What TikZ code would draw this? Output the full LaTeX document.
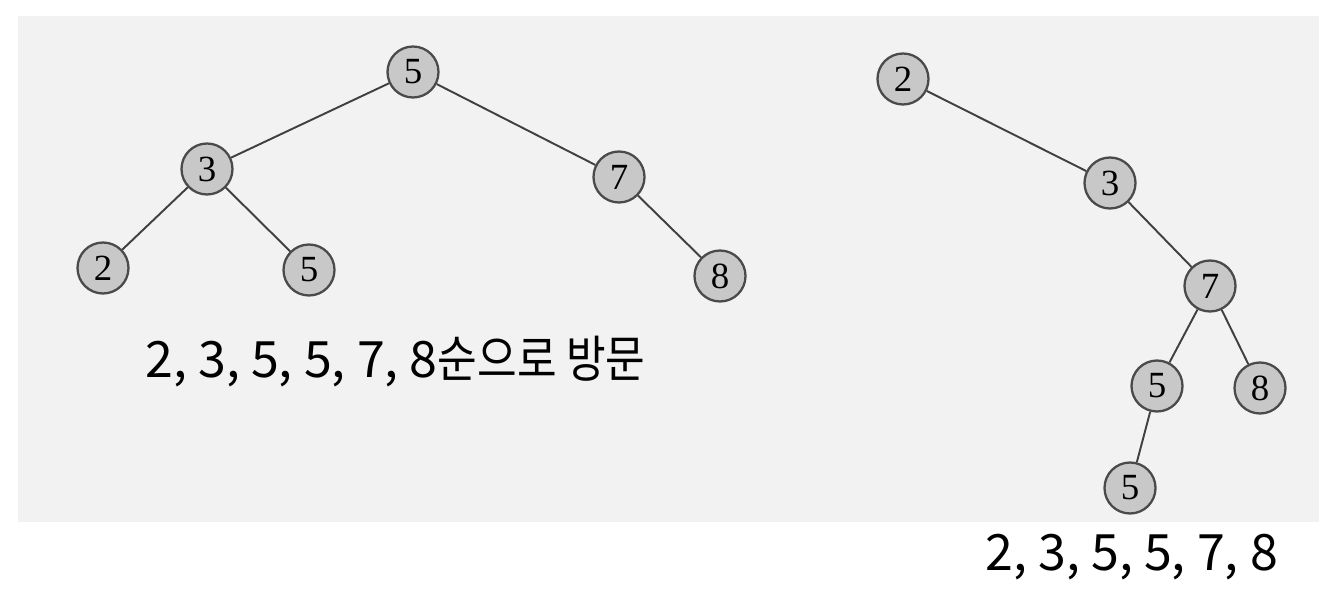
\documentclass[tikz,border=0pt]{standalone}
\usepackage{fontspec}
\setmainfont{Liberation Serif}
\newfontfamily\hangul{Noto Sans CJK KR}
\usepackage{tikz}
\usetikzlibrary{calc}

\definecolor{bgGray}{HTML}{F2F2F2}
\definecolor{nodeFill}{HTML}{C8C8C8}
\definecolor{nodeLine}{HTML}{4A4A4A}
\definecolor{edgeLine}{HTML}{404040}

\tikzset{
	treeNode/.style={circle, draw=nodeLine, fill=nodeFill, line width=1.3pt, minimum size=1.02cm, inner sep=0pt, font=\fontsize{21}{21}\selectfont},
	treeEdge/.style={draw=edgeLine, line width=1.1pt},
	caption/.style={font=\hangul\fontsize{28.5}{30}\selectfont, inner sep=0pt}
}

\begin{document}
\begin{tikzpicture}[x=0.02cm, y=-0.02cm]
			\useasboundingbox (0,0) rectangle (1335,604);
			\fill [bgGray] (18,16) rectangle (1319,522);

			\newcommand{\drawEdge}[2]
			{
				\draw [treeEdge] (#1) -- (#2)
			}

			% left tree
			\begin{scope}
				\node [treeNode] (lFive)  at (413,72)  {5};
				\node [treeNode] (lThree) at (207,169) {3};
				\node [treeNode] (lSeven) at (619,177) {7};
				\node [treeNode] (lTwo)   at (103,268) {2};
				\node [treeNode] (lFiveB) at (309,270) {5};
				\node [treeNode] (lEight) at (720,276) {8};

				\drawEdge{lFive}{lThree};
				\drawEdge{lFive}{lSeven};
				\drawEdge{lThree}{lTwo};
				\drawEdge{lThree}{lFiveB};
				\drawEdge{lSeven}{lEight};
			\end{scope}

			% right tree
			\begin{scope}
				\node [treeNode] (rTwo)   at (903,79)   {2};
				\node [treeNode] (rThree) at (1110,183) {3};
				\node [treeNode] (rSeven) at (1210,286) {7};
				\node [treeNode] (rFive)  at (1157,386) {5};
				\node [treeNode] (rEight) at (1260,388) {8};
				\node [treeNode] (rFiveB) at (1130,488) {5};

				\drawEdge{rTwo}{rThree};
				\drawEdge{rThree}{rSeven};
				\drawEdge{rSeven}{rFive};
				\drawEdge{rSeven}{rEight};
				\drawEdge{rFive}{rFiveB};
			\end{scope}

			\node [caption, anchor=west] (lOrder) at (145,362) {2,\ 3,\ 5,\ 5,\ 7,\ 8\scalebox{0.86}[1]{순으로\ 방문}};
			\node [caption, anchor=west] (rOrder) at (985,557) {2, 3, 5, 5, 7, 8};
		\end{tikzpicture}
\end{document}
